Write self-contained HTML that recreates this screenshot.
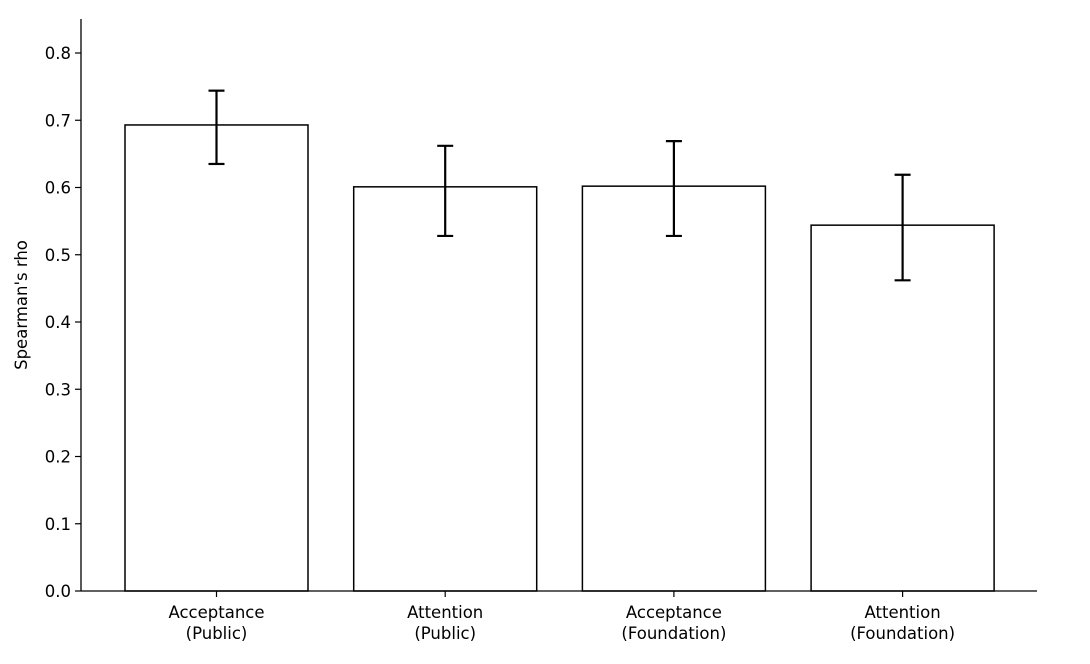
<!DOCTYPE html>
<html><head><meta charset="utf-8"><style>
body{margin:0;background:#fff;}
svg{display:block;font-family:"DejaVu Sans","Liberation Sans",sans-serif;}
</style></head><body>
<svg id="chart" width="1090" height="664"></svg>
<script>
const categories = [["Acceptance","(Public)"],["Attention","(Public)"],["Acceptance","(Foundation)"],["Attention","(Foundation)"]];
const values = [0.693, 0.601, 0.602, 0.544];
const errLow = [0.635, 0.528, 0.528, 0.462];
const errHigh = [0.744, 0.662, 0.669, 0.619];
const yTicks = [0.0,0.1,0.2,0.3,0.4,0.5,0.6,0.7,0.8];

const NS="http://www.w3.org/2000/svg";
const svg=document.getElementById('chart');
const y0=591, pxPer=672.5;
function yS(v){return y0-v*pxPer;}
const step=228.7, c0=216.5, bw=183;
function xS(i){return c0+i*step;}
function mk(tag,attrs,parent){const e=document.createElementNS(NS,tag);for(const k in attrs)e.setAttribute(k,attrs[k]);(parent||svg).appendChild(e);return e;}

values.forEach((v,i)=>{
  const r=mk('rect',{x:xS(i)-bw/2,y:yS(v),width:bw,height:y0-yS(v),fill:'#fff',stroke:'#000','stroke-width':1.5});
  
  
  const g=mk('g',{stroke:'#000','stroke-width':2.2});
  
  
  mk('line',{x1:xS(i),x2:xS(i),y1:yS(errLow[i]),y2:yS(errHigh[i])},g);
  mk('line',{x1:xS(i)-8,x2:xS(i)+8,y1:yS(errLow[i]),y2:yS(errLow[i])},g);
  mk('line',{x1:xS(i)-8,x2:xS(i)+8,y1:yS(errHigh[i]),y2:yS(errHigh[i])},g);
  mk('line',{x1:xS(i),x2:xS(i),y1:y0,y2:y0+6,stroke:'#000','stroke-width':1.2});
  categories[i].forEach((s,j)=>{
    const t=mk('text',{x:xS(i),y:618+j*21,'text-anchor':'middle','font-size':16.5,fill:'#000'});
    t.textContent=s;
    
    
  });
});
yTicks.forEach(v=>{
  mk('line',{x1:75,x2:81,y1:yS(v),y2:yS(v),stroke:'#000','stroke-width':1.2});
  const t=mk('text',{x:71,y:yS(v)+6,'text-anchor':'end','font-size':16.5,fill:'#000'});
  t.textContent=v.toFixed(1);
  
  
});
const ax=mk('line',{x1:81,x2:81,y1:19,y2:y0,stroke:'#000','stroke-width':1.3});


const bx=mk('line',{x1:81,x2:1037,y1:y0,y2:y0,stroke:'#000','stroke-width':1.3});


const yt=mk('text',{x:0,y:0,'text-anchor':'middle','font-size':16.5,fill:'#000',transform:'translate(27,305) rotate(-90)'});
yt.textContent="Spearman's rho";


</script>
</body></html>
